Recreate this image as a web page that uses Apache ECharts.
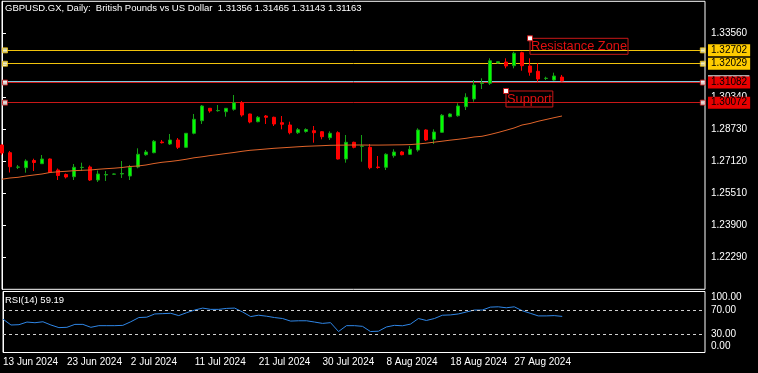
<!DOCTYPE html>
<html><head><meta charset="utf-8">
<script src="https://cdn.jsdelivr.net/npm/echarts@6/dist/echarts.min.js"></script>
<style>html,body{margin:0;padding:0;background:#000}#c{width:758px;height:373px}</style>
</head><body><div id="c"></div>
<script>
const dates = ['13 Jun 2024','14 Jun 2024','16 Jun 2024','17 Jun 2024','18 Jun 2024','19 Jun 2024','20 Jun 2024','21 Jun 2024',
'23 Jun 2024','24 Jun 2024','25 Jun 2024','26 Jun 2024','27 Jun 2024','28 Jun 2024','30 Jun 2024','1 Jul 2024',
'2 Jul 2024','3 Jul 2024','4 Jul 2024','5 Jul 2024','7 Jul 2024','8 Jul 2024','9 Jul 2024','10 Jul 2024',
'11 Jul 2024','12 Jul 2024','14 Jul 2024','15 Jul 2024','16 Jul 2024','17 Jul 2024','18 Jul 2024','19 Jul 2024',
'21 Jul 2024','22 Jul 2024','23 Jul 2024','24 Jul 2024','25 Jul 2024','26 Jul 2024','28 Jul 2024','29 Jul 2024',
'30 Jul 2024','31 Jul 2024','1 Aug 2024','2 Aug 2024','4 Aug 2024','5 Aug 2024','6 Aug 2024','7 Aug 2024',
'8 Aug 2024','9 Aug 2024','11 Aug 2024','12 Aug 2024','13 Aug 2024','14 Aug 2024','15 Aug 2024','16 Aug 2024',
'18 Aug 2024','19 Aug 2024','20 Aug 2024','21 Aug 2024','22 Aug 2024','23 Aug 2024','25 Aug 2024','26 Aug 2024',
'27 Aug 2024','28 Aug 2024','29 Aug 2024','30 Aug 2024','1 Sep 2024','2 Sep 2024','3 Sep 2024'];

const opens = [1.27940,1.27553,1.26823,1.26798,1.27160,1.26999,1.27236,1.26682,1.26456,1.26345,
1.26808,1.26833,1.26179,1.26431,1.26471,1.26481,1.26380,1.26833,1.27452,1.27553,
1.28091,1.27990,1.28192,1.27824,1.28529,1.29163,1.29786,1.29666,1.29615,1.29736,
1.30068,1.29500,1.29112,1.29399,1.29334,1.29062,1.28946,1.28559,1.28619,1.28660,
1.28609,1.28307,1.28559,1.27236,1.28076,1.27875,1.27824,1.26833,1.26818,1.27402,
1.27588,1.27472,1.27689,1.28695,1.28227,1.28579,1.29364,1.29414,1.29867,1.30254,
1.31034,1.31044,1.32066,1.32116,1.31930,1.32584,1.31915,1.31648,1.31286,1.31210,
1.31356];
const highs = [1.27990,1.27638,1.26934,1.27221,1.27251,1.27437,1.27261,1.26758,1.26506,1.26984,
1.27050,1.26909,1.26657,1.26632,1.26506,1.27135,1.26934,1.27774,1.27689,1.28192,
1.28192,1.28494,1.28292,1.28544,1.29500,1.29952,1.29802,1.29952,1.29802,1.30456,
1.30154,1.29515,1.29399,1.29449,1.29364,1.29399,1.29112,1.28795,1.28780,1.28896,
1.28644,1.28629,1.28629,1.28443,1.28106,1.28443,1.27990,1.27387,1.27523,1.27724,
1.27638,1.27890,1.28780,1.28730,1.28730,1.29500,1.29535,1.30038,1.30541,1.31210,
1.31296,1.32302,1.32141,1.32302,1.32634,1.32634,1.32302,1.32050,1.31376,1.31578,
1.31465];
const lows = [1.27437,1.26557,1.26733,1.26547,1.26632,1.26990,1.26531,1.26179,1.26255,1.26179,
1.26632,1.26129,1.26079,1.26129,1.26446,1.26280,1.26179,1.26768,1.27402,1.27523,
1.28016,1.27940,1.27739,1.27804,1.28478,1.28997,1.29565,1.29615,1.29364,1.29666,
1.29364,1.29032,1.29082,1.28997,1.28896,1.28730,1.28478,1.28494,1.28559,1.28056,
1.28227,1.28192,1.27211,1.27050,1.27774,1.27100,1.26718,1.26748,1.26682,1.27301,
1.27422,1.27437,1.27603,1.28141,1.27990,1.28559,1.29334,1.29364,1.29701,1.30119,
1.30757,1.30959,1.32050,1.31799,1.31799,1.31678,1.31427,1.31125,1.31210,1.31175,
1.31143];
const closes = [1.27538,1.26848,1.26833,1.27135,1.27060,1.27236,1.26557,1.26406,1.26330,1.26818,
1.26818,1.26179,1.26481,1.26456,1.26481,1.26506,1.26818,1.27472,1.27588,1.28126,
1.28056,1.28192,1.27824,1.28529,1.29233,1.29902,1.29651,1.29676,1.29786,1.30068,
1.29449,1.29097,1.29334,1.29334,1.28997,1.28982,1.28559,1.28710,1.28720,1.28559,
1.28358,1.28529,1.27236,1.28076,1.27824,1.27890,1.26798,1.26808,1.27472,1.27588,
1.27452,1.27724,1.28695,1.28192,1.28594,1.29434,1.29500,1.29902,1.30340,1.30959,
1.31059,1.32181,1.32131,1.31915,1.32554,1.31930,1.31598,1.31261,1.31301,1.31411,
1.31163];
const ma50 = [1.26219,1.26280,1.26315,1.26380,1.26431,1.26481,1.26557,1.26592,1.26617,1.26647,
1.26667,1.26682,1.26718,1.26748,1.26773,1.26808,1.26858,1.26884,1.26934,1.27009,
1.27070,1.27110,1.27160,1.27221,1.27296,1.27346,1.27407,1.27457,1.27512,1.27563,
1.27623,1.27673,1.27704,1.27739,1.27774,1.27799,1.27824,1.27850,1.27875,1.27890,
1.27905,1.27925,1.27930,1.27935,1.27940,1.27940,1.27935,1.27935,1.27940,1.27945,
1.27950,1.27960,1.27990,1.28031,1.28081,1.28131,1.28182,1.28227,1.28277,1.28343,
1.28378,1.28468,1.28569,1.28680,1.28795,1.28946,1.29022,1.29132,1.29223,1.29314,
1.29399];
const rsi14 = [54.7,45.1,45.6,49.9,48.8,50.4,45.1,40.8,41.3,46.1,
46.1,41.3,44.0,44.0,44.0,44.5,50.4,57.3,57.9,63.2,
63.7,64.3,60.5,65.3,69.6,72.8,70.7,70.7,72.3,72.8,
66.4,58.9,61.1,59.5,57.3,55.7,51.5,52.0,52.0,49.9,
47.7,48.9,34.4,44.0,44.0,42.9,34.4,34.9,41.9,44.5,
43.8,46.5,55.7,52.5,55.7,61.1,61.6,63.2,66.4,69.6,
69.6,74.4,74.9,73.3,74.9,68.5,64.3,60.0,60.0,60.5,
59.19];
const resistanceLevels = [1.32702, 1.32029];
const supportLevels = [1.31082, 1.30072];
const bidPrice = 1.31163;
const rsiLevels = [70, 30];
const rsiAxisLabels = {90:'100.00', 70:'70.00', 30:'30.00', 10:'0.00'};
const annotations = [
  {text:'Resistance Zone', index:66, price:1.33308},
  {text:'Support', index:63, price:1.30657}
];

const FONT = "'Liberation Sans', Arial, sans-serif";
const XMAX = 87.875;
const YELLOW = '#f2c40c', RED = '#c81818', BID = '#7ec9dc';
const last = dates.length - 1;

const candleData = dates.map((d,i)=>[i, opens[i], closes[i], lows[i], highs[i]]);
const maData = ma50.map((v,i)=>[i, v]);
const rsiData = rsi14.map((v,i)=>[i, v]);

function tag(bg){
  return {show:true, position:'end', distance:3, color:'#000', backgroundColor:bg,
    fontSize:10, fontFamily:FONT, lineHeight:11, padding:[1,3,0,3], formatter:p=>Number(p.value).toFixed(5)};
}
const lineLevels = [
  {yAxis:bidPrice, lineStyle:{color:BID,width:1,type:'solid'}, label:tag('#a9a9a9')},
  ...resistanceLevels.map(v=>({yAxis:v, lineStyle:{color:YELLOW,width:1,type:'solid'}, label:tag('#ffcc00')})),
  ...supportLevels.map(v=>({yAxis:v, lineStyle:{color:RED,width:1,type:'solid'}, label:tag('#e80000')}))
];
const handles = [];
resistanceLevels.forEach(v=>{handles.push({value:[0.375,v],itemStyle:{borderColor:YELLOW,color:'#ffffd0'}});handles.push({value:[87.6,v],itemStyle:{borderColor:YELLOW,color:'#ffffd0'}});});
supportLevels.forEach(v=>{handles.push({value:[0.375,v],itemStyle:{borderColor:RED}});handles.push({value:[87.6,v],itemStyle:{borderColor:RED}});});

const chart = echarts.init(document.getElementById('c'), null, {renderer:'canvas'});
const option = {
  backgroundColor:'#000',
  animation:false,
  textStyle:{fontFamily:FONT},
  grid:[
    {left:2, top:1.3, width:703, height:288, show:true, borderColor:'#fff', borderWidth:1},
    {left:2, top:291.5, width:703, height:61, show:true, borderColor:'#fff', borderWidth:1}
  ],
  xAxis:[
    {type:'value', gridIndex:0, min:0, max:XMAX, interval:8, axisLine:{show:false}, axisTick:{show:false}, axisLabel:{show:false}, splitLine:{show:false}},
    {type:'value', gridIndex:1, min:0, max:XMAX, interval:8, axisLine:{show:false}, axisTick:{show:false}, splitLine:{show:false},
      axisLabel:{color:'#fff', fontSize:10, fontFamily:FONT, align:'left', margin:5, showMaxLabel:false, formatter:v=>dates[v]||''}}
  ],
  yAxis:[
    {type:'value', gridIndex:0, position:'right', min:1.2068, max:1.3517, interval:0.0161,
      axisLine:{show:true, lineStyle:{color:'#fff'}}, axisTick:{show:true, length:4, lineStyle:{color:'#fff'}},
      splitLine:{show:false},
      axisLabel:{color:'#fff', fontSize:10, fontFamily:FONT, margin:6, showMinLabel:false, showMaxLabel:false, formatter:v=>v.toFixed(5)}},
    {type:'value', gridIndex:1, position:'right', min:0, max:100, interval:10,
      axisLine:{show:true, lineStyle:{color:'#fff'}}, axisTick:{show:false}, splitLine:{show:false},
      axisLabel:{color:'#fff', fontSize:10, fontFamily:FONT, margin:6, showMinLabel:false, showMaxLabel:false, formatter:v=>rsiAxisLabels[Math.round(v)]||''}}
  ],
  series:[
    {type:'candlestick', xAxisIndex:0, yAxisIndex:0, data:candleData, barWidth:4, z:3,
      itemStyle:{color:'#00ff00', color0:'#ff0000', borderColor:'#16a016', borderColor0:'#ff0000', borderWidth:1},
      markLine:{symbol:'none', silent:true, animation:false, precision:5, z:2, data:lineLevels}},
    {type:'line', xAxisIndex:0, yAxisIndex:0, data:maData, showSymbol:false, z:4,
      lineStyle:{color:'#e0642a', width:1}},
    {type:'scatter', xAxisIndex:0, yAxisIndex:0, data:handles, symbol:'rect', symbolSize:5, z:6,
      itemStyle:{color:'#ffffff', borderWidth:1}},
    {type:'line', xAxisIndex:1, yAxisIndex:1, data:rsiData, showSymbol:false, z:4,
      lineStyle:{color:'#2f86e6', width:1},
      markLine:{symbol:'none', silent:true, animation:false, precision:2, label:{show:false},
        lineStyle:{color:'#d0d0d0', width:1, type:[3,3]}, data:rsiLevels.map(v=>({yAxis:v}))}}
  ]
};
chart.setOption(option);

const title = 'GBPUSD.GX, Daily:  British Pounds vs US Dollar  ' +
  [opens[last],highs[last],lows[last],closes[last]].map(v=>v.toFixed(5)).join(' ');
const graphics = [
  {type:'text', left:5, top:3, z:10, style:{text:title, fill:'#fff', font:'9.5px '+FONT}},
  {type:'text', left:5, top:295, z:10, style:{text:'RSI(14) '+rsi14[last].toFixed(2), fill:'#fff', font:'9.5px '+FONT}}
];
annotations.forEach(a=>{
  const p = chart.convertToPixel({gridIndex:0}, [a.index, a.price]);
  graphics.push({type:'text', x:p[0], y:p[1], z:10, style:{text:a.text, fill:'#e01010', font:'12.8px '+FONT,
    lineHeight:14, padding:[1,1,1,1], borderColor:RED, borderWidth:1, align:'left', verticalAlign:'top'}});
  graphics.push({type:'rect', x:p[0]-2.5, y:p[1]-2.5, z:11, shape:{x:0,y:0,width:5,height:5},
    style:{fill:'#fff', stroke:RED, lineWidth:1}});
});
chart.setOption({graphic:graphics});
</script></body></html>
